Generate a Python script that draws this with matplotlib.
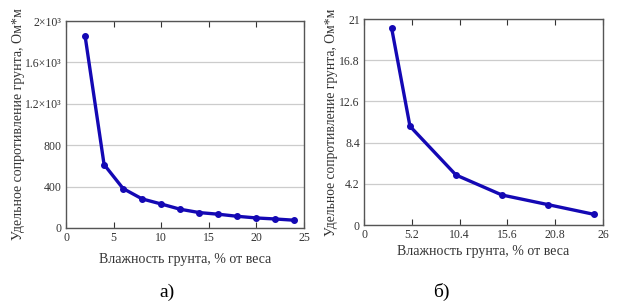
import matplotlib
matplotlib.use("Agg")
import matplotlib.pyplot as plt

plt.rcParams['font.family'] = ['Liberation Serif', 'DejaVu Serif']

# left chart (а)
moist_a = [2, 4, 6, 8, 10, 12, 14, 16, 18, 20, 22, 24]
resist_a = [1858, 613, 381, 281, 232, 181, 149, 133, 113, 97, 87, 75]
yticks_a = [0, 400, 800, 1200, 1600, 2000]
ylabels_a = ['0', '400', '800', '1.2×10³', '1.6×10³', '2×10³']
xticks_a = [0, 5, 10, 15, 20, 25]

# right chart (б)
moist_b = [3, 5, 10, 15, 20, 25]
resist_b = [20.1, 10.07, 5.1, 3.06, 2.08, 1.09]
yticks_b = [0, 4.2, 8.4, 12.6, 16.8, 21]
ylabels_b = ['0', '4.2', '8.4', '12.6', '16.8', '21']
xticks_b = [0, 5.2, 10.4, 15.6, 20.8, 26]
xlabels_b = ['0', '5.2', '10.4', '15.6', '20.8', '26']

line_col = '#1408b4'
frame_col = '#555555'
xlab = 'Влажность грунта, % от веса'
ylab = 'Удельное сопротивление грунта, Ом*м'

fig = plt.figure(figsize=(6.24, 3.07), dpi=100)
ax1 = fig.add_axes([66/624, 1-228/307, 238/624, 207/307])
ax2 = fig.add_axes([364/624, 1-225/307, 239/624, 206/307])


def style(ax):
    for s in ax.spines.values():
        s.set_color(frame_col)
        s.set_linewidth(1.0)
    ax.tick_params(direction='in', top=True, right=False, length=4,
                   color='#333333', labelsize=8.5, pad=3, labelcolor='#333333')
    ax.tick_params(axis='y', length=0)
    ax.yaxis.grid(True, color='#cccccc', linewidth=0.9)
    ax.set_axisbelow(True)


ax1.plot(moist_a, resist_a, color=line_col, lw=2.4, marker='o', ms=4)
ax1.set_xlim(0, 25)
ax1.set_ylim(0, 2000)
ax1.set_xticks(xticks_a)
ax1.set_yticks(yticks_a)
ax1.set_yticklabels(ylabels_a)
style(ax1)
ax1.set_xlabel(xlab, fontsize=10, labelpad=6, color='#333333')
ax1.set_ylabel(ylab, fontsize=10, labelpad=0, color='#333333')

ax2.plot(moist_b, resist_b, color=line_col, lw=2.4, marker='o', ms=4)
ax2.set_xlim(0, 26)
ax2.set_ylim(0, 21)
ax2.set_xticks(xticks_b)
ax2.set_xticklabels(xlabels_b)
ax2.set_yticks(yticks_b)
ax2.set_yticklabels(ylabels_b)
style(ax2)
ax2.set_xlabel(xlab, fontsize=10, labelpad=3, color='#333333')
ax2.set_ylabel(ylab, fontsize=9.8, labelpad=1, color='#333333')

fig.text(167/624, 1-292/307, 'а)', fontsize=14, ha='center', va='center')
fig.text(441/624, 1-292/307, 'б)', fontsize=14, ha='center', va='center')

fig.savefig('out.png', dpi=100)
